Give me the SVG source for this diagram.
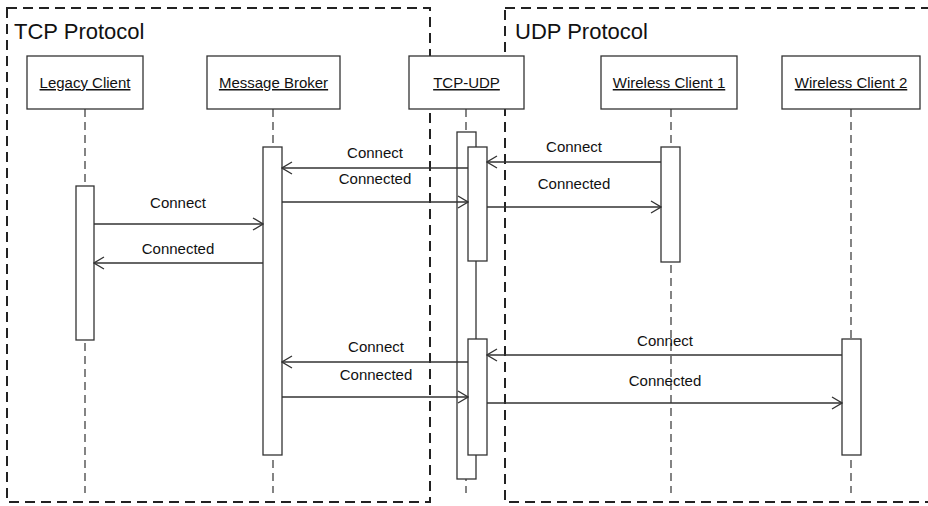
<svg xmlns="http://www.w3.org/2000/svg" width="928" height="506" viewBox="0 0 928 506">
  <style>
    .frame { fill: none; stroke: #222; stroke-width: 2; stroke-dasharray: 10 6; }
    .title { font-family: "Liberation Sans", Arial, sans-serif; font-size: 22px; fill: #111; }
    .box { fill: #fff; stroke: #333; stroke-width: 1.3; }
    .name { font-family: "Liberation Sans", Arial, sans-serif; font-size: 15px; fill: #111; text-anchor: middle; text-decoration: underline; }
    .life { stroke: #333; stroke-width: 1.2; stroke-dasharray: 8 5; fill: none; }
    .act { fill: #fff; stroke: #333; stroke-width: 1.3; }
    .msg { stroke: #333; stroke-width: 1.3; fill: none; marker-end: url(#open); }
    .lbl { font-family: "Liberation Sans", Arial, sans-serif; font-size: 15px; fill: #111; text-anchor: middle; }
  </style>
  <defs>
    <marker id="open" viewBox="0 0 12 14" refX="11" refY="7" markerWidth="12" markerHeight="14" markerUnits="userSpaceOnUse" orient="auto">
      <path d="M1,1 L11,7 L1,13" fill="none" stroke="#333" stroke-width="1.3"/>
    </marker>
  </defs>
  <rect width="928" height="506" fill="#fff"/>

  <!-- protocol frames -->
  <g id="frame-tcp">
    <rect class="frame" x="7" y="8" width="423" height="494"/>
    <text class="title" x="14" y="39">TCP Protocol</text>
  </g>
  <g id="frame-udp">
    <rect class="frame" x="505" y="8" width="440" height="494"/>
    <text class="title" x="515" y="39">UDP Protocol</text>
  </g>

  <!-- lifelines -->
  <g id="lifelines">
    <line class="life" x1="85" y1="109" x2="85" y2="493"/>
    <line class="life" x1="273" y1="109" x2="273" y2="493"/>
    <line class="life" x1="466" y1="109" x2="466" y2="493"/>
    <line class="life" x1="671" y1="109" x2="671" y2="493"/>
    <line class="life" x1="851" y1="109" x2="851" y2="493"/>
  </g>

  <g id="legacy-client">
    <rect class="box" x="27" y="56" width="116" height="53"/>
    <text class="name" x="85" y="88">Legacy Client</text>
    <rect class="act" x="76" y="186" width="18" height="154"/>
  </g>
  <g id="message-broker">
    <rect class="box" x="207" y="56" width="133" height="53"/>
    <text class="name" x="273.5" y="88">Message Broker</text>
    <rect class="act" x="263" y="147" width="19" height="308"/>
  </g>
  <g id="tcp-udp">
    <rect class="box" x="409" y="56" width="115" height="53"/>
    <text class="name" x="466.5" y="88">TCP-UDP</text>
    <rect class="act" x="457" y="132" width="19" height="347"/>
    <rect class="act" x="468" y="147" width="19" height="114"/>
    <rect class="act" x="468" y="339" width="19" height="116"/>
  </g>
  <g id="wireless-client-1">
    <rect class="box" x="601" y="56" width="136" height="53"/>
    <text class="name" x="669" y="88">Wireless Client 1</text>
    <rect class="act" x="661" y="147" width="19" height="115"/>
  </g>
  <g id="wireless-client-2">
    <rect class="box" x="782" y="56" width="138" height="53"/>
    <text class="name" x="851" y="88">Wireless Client 2</text>
    <rect class="act" x="842" y="339" width="19" height="116"/>
  </g>

  <!-- messages -->
  <g id="connectors">
    <line class="msg" x1="661" y1="162" x2="487" y2="162"/>
    <text class="lbl" x="574" y="152">Connect</text>

    <line class="msg" x1="468" y1="168" x2="282" y2="168"/>
    <text class="lbl" x="375" y="158">Connect</text>

    <line class="msg" x1="282" y1="202" x2="468" y2="202"/>
    <text class="lbl" x="375" y="184">Connected</text>

    <line class="msg" x1="487" y1="207" x2="661" y2="207"/>
    <text class="lbl" x="574" y="189">Connected</text>

    <line class="msg" x1="94" y1="224" x2="263" y2="224"/>
    <text class="lbl" x="178" y="208">Connect</text>

    <line class="msg" x1="263" y1="263" x2="94" y2="263"/>
    <text class="lbl" x="178" y="254">Connected</text>

    <line class="msg" x1="842" y1="355" x2="487" y2="355"/>
    <text class="lbl" x="665" y="346">Connect</text>

    <line class="msg" x1="468" y1="362" x2="282" y2="362"/>
    <text class="lbl" x="376" y="352">Connect</text>

    <line class="msg" x1="282" y1="397" x2="468" y2="397"/>
    <text class="lbl" x="376" y="380">Connected</text>

    <line class="msg" x1="487" y1="403" x2="842" y2="403"/>
    <text class="lbl" x="665" y="386">Connected</text>
  </g>
</svg>
